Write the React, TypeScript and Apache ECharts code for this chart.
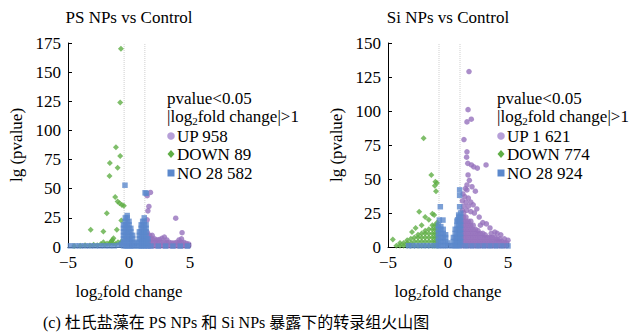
import React, { useEffect, useRef } from "react";
import * as echarts from "echarts";

type P = [number, number];

const TITLES = ["PS NPs vs Control", "Si NPs vs Control"];
const Y_MAX = [175, 150];
const THRESH_LINES = [[-0.4, 1.3], [-0.75, 1.0]];
const LEGEND_LABELS = [
  ["UP 958", "DOWN 89", "NO 28 582"],
  ["UP 1 621", "DOWN 774", "NO 28 924"],
];
const CAPTION = "(c) 杜氏盐藻在 PS NPs 和 Si NPs 暴露下的转录组火山图";

const PS_UP: P[] = [
  [1.76, 46.8], [1.49, 44], [1.63, 34.8], [1.55, 31], [1.49, 23.3], [3.83, 24.7], [4.35, 12.3],
  [1.5, 1], [1.5, 4], [1.5, 7], [1.5, 10], [1.5, 12.5],
  [1.7, 1], [1.7, 4], [1.7, 7], [1.7, 10],
  [1.9, 1], [1.9, 4], [1.9, 7], [1.9, 10],
  [2.1, 1], [2.1, 4], [2.1, 7],
  [2.3, 1], [2.3, 4], [2.3, 6],
  [2.5, 1], [2.5, 4], [2.5, 6.5],
  [2.7, 1], [2.7, 4], [2.7, 7.5],
  [2.9, 1], [2.9, 4], [2.9, 8.5],
  [3.1, 1], [3.1, 4], [3.1, 6],
  [3.3, 1], [3.3, 4],
  [3.5, 1], [3.5, 3.5],
  [3.7, 1], [3.7, 3.5],
  [3.9, 1], [3.9, 4],
  [4.1, 1], [4.1, 4], [4.1, 6],
  [4.3, 1], [4.3, 4], [4.3, 7],
  [4.5, 1], [4.5, 4],
  [4.7, 1], [4.7, 3],
  [4.9, 1], [4.9, 2.5],
];

const PS_DOWN: P[] = [
  [-0.66, 170], [-0.72, 124], [-1.07, 85.6], [-0.72, 78], [-1.57, 72], [-0.93, 68], [-1.6, 61],
  [-1.13, 42.8], [-0.93, 39], [-0.77, 37.6], [-0.58, 36], [-0.42, 35.3], [-1.82, 29], [-0.63, 22.7],
  [-3.14, 14.7], [-2.1, 13.2], [-1.0, 14.7], [-1.27, 7.5], [-1.35, 6], [-1.45, 5], [-2.1, 4],
  [-4.5, 0.8], [-4.0, 1], [-3.6, 1.5], [-3.2, 1.2], [-2.9, 2], [-2.6, 1.5], [-2.3, 2.5], [-2.0, 2],
  [-1.8, 3], [-1.6, 2.5], [-1.5, 4], [-1.3, 3], [-1.1, 2.5], [-0.9, 4], [-0.7, 3], [-0.6, 5],
];

const PS_NO: P[] = [
  [-0.33, 53], [1.32, 46.5], [1.42, 46],
  [-0.45, 1], [-0.45, 4], [-0.45, 7], [-0.45, 10], [-0.45, 13], [-0.45, 16], [-0.45, 19],
  [-0.3, 1], [-0.3, 4], [-0.3, 7], [-0.3, 10], [-0.3, 13], [-0.3, 16], [-0.3, 19], [-0.3, 22], [-0.3, 25],
  [-0.15, 1], [-0.15, 4], [-0.15, 7], [-0.15, 10], [-0.15, 13], [-0.15, 16], [-0.15, 19], [-0.15, 22], [-0.15, 25], [-0.15, 27],
  [0, 1], [0, 4], [0, 7], [0, 10], [0, 13], [0, 16], [0, 19], [0, 22],
  [0.15, 1], [0.15, 4], [0.15, 7], [0.15, 10], [0.15, 13], [0.15, 16],
  [0.3, 1], [0.3, 4], [0.3, 7], [0.3, 10],
  [0.45, 1], [0.45, 3],
  [0.7, 1], [0.7, 4],
  [0.85, 1], [0.85, 4], [0.85, 7], [0.85, 10], [0.85, 13],
  [1.0, 1], [1.0, 4], [1.0, 7], [1.0, 10], [1.0, 13], [1.0, 16], [1.0, 19],
  [1.12, 1], [1.12, 4], [1.12, 7], [1.12, 10], [1.12, 13], [1.12, 16], [1.12, 19], [1.12, 22],
  [1.25, 1], [1.25, 4], [1.25, 7], [1.25, 10], [1.25, 13], [1.25, 16], [1.25, 19], [1.25, 22], [1.25, 25],
  [1.4, 1], [1.4, 4], [1.4, 7], [1.4, 10], [1.4, 13], [1.4, 16], [1.4, 19],
  [1.55, 1], [1.55, 4], [1.55, 7],
  [-4.8, 1], [-4.4, 1], [-4.0, 1], [-3.6, 1], [-3.2, 1], [-2.8, 1], [-2.4, 1], [-2.0, 1],
  [-1.6, 1], [-1.2, 1], [-0.8, 1.5], [-0.6, 2.5], [1.8, 0.8], [2.4, 0.8], [3.0, 0.8], [3.6, 0.8], [4.2, 0.8], [4.8, 0.8],
];

const SI_UP: P[] = [
  [1.75, 129], [1.67, 101], [1.58, 92], [1.94, 94], [1.33, 79], [1.58, 70], [1.55, 66], [1.65, 61.5],
  [1.95, 60.3], [2.15, 59], [2.45, 58], [3.17, 60.3], [1.67, 53], [1.78, 49], [1.58, 45.6], [2.0, 44.3],
  [1.45, 43], [1.58, 42], [2.28, 41], [1.25, 39], [1.4, 37], [1.7, 36], [1.2, 34], [1.5, 33], [1.9, 33],
  [1.3, 30], [1.7, 30], [2.1, 31], [2.4, 28], [1.2, 27], [1.55, 27], [1.9, 26], [2.2, 25], [2.6, 22],
  [2.9, 18], [3.2, 17], [2.7, 16], [3.5, 14], [4.1, 10], [3.9, 11], [3.6, 10], [4.4, 9], [4.7, 6], [5.0, 5],
  [1.1, 1], [1.1, 4], [1.1, 7], [1.1, 10], [1.1, 13], [1.1, 16], [1.1, 19], [1.1, 22],
  [1.3, 1], [1.3, 4], [1.3, 7], [1.3, 10], [1.3, 13], [1.3, 16], [1.3, 19], [1.3, 22], [1.3, 25],
  [1.5, 1], [1.5, 4], [1.5, 7], [1.5, 10], [1.5, 13], [1.5, 16], [1.5, 19], [1.5, 22],
  [1.7, 1], [1.7, 4], [1.7, 7], [1.7, 10], [1.7, 13], [1.7, 16], [1.7, 19],
  [1.9, 1], [1.9, 4], [1.9, 7], [1.9, 10], [1.9, 13], [1.9, 16], [1.9, 19],
  [2.1, 1], [2.1, 4], [2.1, 7], [2.1, 10], [2.1, 13], [2.1, 16],
  [2.3, 1], [2.3, 4], [2.3, 7], [2.3, 10], [2.3, 13],
  [2.5, 1], [2.5, 4], [2.5, 7], [2.5, 10], [2.5, 12],
  [2.7, 1], [2.7, 4], [2.7, 7], [2.7, 10],
  [2.9, 1], [2.9, 4], [2.9, 7], [2.9, 10],
  [3.1, 1], [3.1, 4], [3.1, 7], [3.1, 9],
  [3.3, 1], [3.3, 4], [3.3, 7],
  [3.5, 1], [3.5, 4], [3.5, 7],
  [3.7, 1], [3.7, 4], [3.7, 7],
  [3.9, 1], [3.9, 4], [3.9, 7],
  [4.1, 1], [4.1, 4], [4.1, 6],
  [4.3, 1], [4.3, 4], [4.3, 6],
  [4.5, 1], [4.5, 4],
  [4.7, 1], [4.7, 3],
  [4.9, 1], [4.9, 3],
];

const SI_DOWN: P[] = [
  [-2.03, 80], [-1.39, 53], [-1.05, 48], [-0.92, 47], [-1.1, 45], [-1.0, 41],
  [-2.4, 26], [-1.9, 22], [-1.3, 24.5], [-1.15, 23.5], [-1.6, 20], [-2.7, 14], [-2.2, 16], [-3.0, 11], [-4.6, 5.6],
  [-4.3, 1],
  [-4.0, 1], [-4.0, 3],
  [-3.7, 1], [-3.7, 3],
  [-3.4, 1], [-3.4, 3], [-3.4, 5],
  [-3.1, 1], [-3.1, 3], [-3.1, 6],
  [-2.8, 1], [-2.8, 4], [-2.8, 7],
  [-2.5, 1], [-2.5, 4], [-2.5, 7], [-2.5, 9],
  [-2.2, 1], [-2.2, 4], [-2.2, 7], [-2.2, 10],
  [-1.9, 1], [-1.9, 4], [-1.9, 7], [-1.9, 10], [-1.9, 12],
  [-1.6, 1], [-1.6, 4], [-1.6, 7], [-1.6, 10], [-1.6, 13],
  [-1.3, 1], [-1.3, 4], [-1.3, 7], [-1.3, 10], [-1.3, 13], [-1.3, 16],
  [-1.1, 1], [-1.1, 4], [-1.1, 7], [-1.1, 10], [-1.1, 13], [-1.1, 16],
  [-0.9, 1], [-0.9, 4], [-0.9, 7], [-0.9, 10], [-0.9, 13], [-0.9, 16], [-0.9, 18],
];

const SI_NO: P[] = [
  [0.97, 42], [0.97, 38], [-0.64, 29.6], [0.97, 29.6], [0.89, 23.5], [-0.72, 19.8], [-0.42, 19.8], [0.8, 20],
  [-0.8, 1], [-0.8, 4], [-0.8, 7], [-0.8, 10], [-0.8, 13], [-0.8, 16],
  [-0.6, 1], [-0.6, 4], [-0.6, 7], [-0.6, 10], [-0.6, 13], [-0.6, 15],
  [-0.4, 1], [-0.4, 4], [-0.4, 7], [-0.4, 10], [-0.4, 13],
  [-0.2, 1], [-0.2, 4], [-0.2, 7], [-0.2, 9],
  [0.0, 1], [0.0, 3],
  [0.3, 1],
  [0.45, 1], [0.45, 4], [0.45, 7],
  [0.6, 1], [0.6, 4], [0.6, 7], [0.6, 10], [0.6, 13],
  [0.75, 1], [0.75, 4], [0.75, 7], [0.75, 10], [0.75, 13], [0.75, 16], [0.75, 19],
  [0.9, 1], [0.9, 4], [0.9, 7], [0.9, 10], [0.9, 13], [0.9, 16], [0.9, 19], [0.9, 22],
  [1.05, 1], [1.05, 4], [1.05, 7], [1.05, 10], [1.05, 13], [1.05, 16], [1.05, 19], [1.05, 22], [1.05, 25],
  [-3.3, 1], [-3.0, 1], [-2.6, 1], [-2.2, 1], [-1.8, 1], [-1.4, 1], [-1.0, 1],
  [1.5, 0.8], [2.0, 0.8], [2.5, 0.8], [3.0, 0.8], [3.5, 0.8], [4.0, 0.8], [4.5, 0.8], [5.0, 0.8],
];

const DATA = [
  { up: PS_UP, down: PS_DOWN, no: PS_NO },
  { up: SI_UP, down: SI_DOWN, no: SI_NO },
];

const FONT = "Times New Roman";
const C_UP = "#9672bd";
const C_UP_LEG = "#b69fd8";
const C_DOWN = "#5fae45";
const C_NO = "#5b88cc";
const C_THRESH = "#cfcfcf";

const GRIDS = [
  { left: 68, top: 43, width: 122, height: 204 },
  { left: 388, top: 43, width: 120, height: 204 },
];
const LEG_X = [167, 497];
const TITLE_X = [129, 448];

export default function App() {
  const ref = useRef<HTMLDivElement>(null);
  useEffect(() => {
    const chart = echarts.init(ref.current!, null, { renderer: "svg" });
    const rich = {
      n: { fontFamily: FONT, fontSize: 17, color: "#000", lineHeight: 20 },
      s: { fontFamily: FONT, fontSize: 11, color: "#000", lineHeight: 12, verticalAlign: "bottom" },
    };
    const xAxes = [0, 1].map((gi) => ({
      gridIndex: gi,
      type: "value",
      min: -5,
      max: 5,
      interval: 5,
      axisLine: { show: true, onZero: false, lineStyle: { color: "#000", width: 1 } },
      axisTick: { show: true, inside: true, length: 4, lineStyle: { color: "#000" } },
      axisLabel: {
        fontFamily: FONT,
        fontSize: 17,
        color: "#000",
        margin: 7,
        formatter: (v: number) => (v < 0 ? "\u2212" + Math.abs(v) : String(v)),
      },
      splitLine: { show: false },
      name: "{n|log}{s|2}{n|fold change}",
      nameLocation: "middle",
      nameGap: 34,
      nameTextStyle: { rich },
    }));
    const yAxes = [0, 1].map((gi) => ({
      gridIndex: gi,
      type: "value",
      min: 0,
      max: Y_MAX[gi],
      interval: 25,
      axisLine: { show: true, onZero: false, lineStyle: { color: "#000", width: 1 } },
      axisTick: { show: true, inside: true, length: 4, lineStyle: { color: "#000" } },
      axisLabel: { fontFamily: FONT, fontSize: 17, color: "#000", margin: 7 },
      splitLine: { show: false },
      name: "lg (pvalue)",
      nameLocation: "middle",
      nameGap: 43,
      nameTextStyle: { fontFamily: FONT, fontSize: 17, color: "#000" },
    }));
    const series: any[] = [];
    [0, 1].forEach((gi) => {
      const d = DATA[gi];
      THRESH_LINES[gi].forEach((x) => {
        series.push({
          type: "line",
          xAxisIndex: gi,
          yAxisIndex: gi,
          z: 1,
          silent: true,
          color: C_THRESH,
          showSymbol: false,
          symbol: "none",
          itemStyle: { color: C_THRESH },
          lineStyle: { color: C_THRESH, type: "dotted", width: 1 },
          emphasis: { disabled: true },
          data: [[x, 0], [x, Y_MAX[gi]]],
        });
      });
      series.push({
        type: "scatter", xAxisIndex: gi, yAxisIndex: gi, z: 2,
        symbol: "circle", symbolSize: 5.5, itemStyle: { color: C_UP }, data: d.up,
      });
      series.push({
        type: "scatter", xAxisIndex: gi, yAxisIndex: gi, z: 3,
        symbol: "diamond", symbolSize: 6, itemStyle: { color: C_DOWN }, data: d.down,
      });
      series.push({
        type: "scatter", xAxisIndex: gi, yAxisIndex: gi, z: 4,
        symbol: "rect", symbolSize: 5.5, itemStyle: { color: C_NO }, data: d.no,
      });
    });

    const graphic: any[] = [];
    [0, 1].forEach((gi) => {
      graphic.push({
        type: "text", x: TITLE_X[gi], y: 17,
        style: { text: TITLES[gi], fontFamily: FONT, fontSize: 17, fill: "#000", align: "center", verticalAlign: "middle" },
      });
      const lx = LEG_X[gi];
      graphic.push({
        type: "text", x: lx, y: 98,
        style: { text: "pvalue<0.05", fontFamily: FONT, fontSize: 17, fill: "#000", verticalAlign: "middle" },
      });
      graphic.push({
        type: "text", x: lx, y: 116,
        style: {
          text: "{n||log}{s|2}{n|fold change|>1}",
          rich: {
            n: { fontFamily: FONT, fontSize: 17, fill: "#000", lineHeight: 20 },
            s: { fontFamily: FONT, fontSize: 11, fill: "#000", lineHeight: 12, verticalAlign: "bottom" },
          },
          verticalAlign: "middle",
        },
      });
      const ix = lx + 4;
      const tx = lx + 10;
      const rows = [136, 154, 173];
      graphic.push({ type: "circle", shape: { cx: ix, cy: rows[0], r: 3.8 }, style: { fill: C_UP_LEG } });
      graphic.push({
        type: "polygon",
        shape: { points: [[ix, rows[1] - 4], [ix + 3.5, rows[1]], [ix, rows[1] + 4], [ix - 3.5, rows[1]]] },
        style: { fill: C_DOWN },
      });
      graphic.push({ type: "rect", shape: { x: ix - 3.5, y: rows[2] - 3.5, width: 7, height: 7 }, style: { fill: C_NO } });
      LEGEND_LABELS[gi].forEach((t, i) => {
        graphic.push({
          type: "text", x: tx, y: rows[i],
          style: { text: t, fontFamily: FONT, fontSize: 17, fill: "#000", verticalAlign: "middle" },
        });
      });
    });

    chart.setOption({
      animation: false,
      backgroundColor: "#fff",
      grid: GRIDS,
      xAxis: xAxes,
      yAxis: yAxes,
      series,
      graphic,
    });
    return () => chart.dispose();
  }, []);
  return (
    <div style={{ position: "absolute", left: 0, top: 0, width: 638, height: 335, background: "#fff" }}>
      <div ref={ref} style={{ position: "absolute", left: 0, top: 0, width: 638, height: 335 }} />
      <div
        style={{
          position: "absolute",
          left: 43,
          top: 313,
          fontFamily: "'Times New Roman', 'Noto Sans CJK SC', serif",
          fontSize: 16,
          lineHeight: "20px",
          color: "#000",
          whiteSpace: "nowrap",
        }}
      >
        {CAPTION}
      </div>
    </div>
  );
}
